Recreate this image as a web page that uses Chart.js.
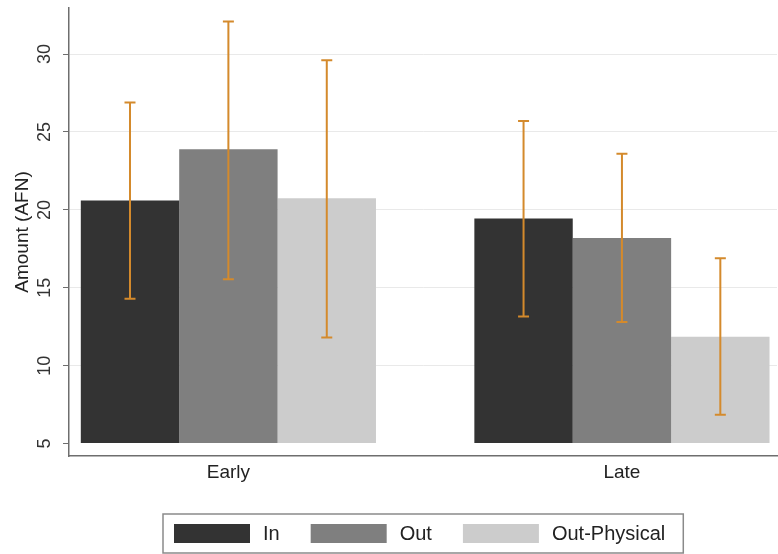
<!DOCTYPE html>
<html>
<head>
<meta charset="utf-8">
<script src="https://cdn.jsdelivr.net/npm/chart.js@4.4.0/dist/chart.umd.min.js"></script>
<style>
  html, body { margin: 0; padding: 0; background: #fff; }
</style>
</head>
<body>
<canvas id="chart" width="778" height="554"></canvas>
<script>
// groups on the x axis and the three series
const groups = ['Early', 'Late'];
const series = ['In', 'Out', 'Out-Physical'];

// bar heights (means)
const inVals = [20.6, 19.45];
const outVals = [23.9, 18.2];
const physVals = [20.75, 11.85];

// error bar ends
const inLow = [14.3, 13.15];
const inHigh = [26.9, 25.7];
const outLow = [15.55, 12.8];
const outHigh = [32.1, 23.6];
const physLow = [11.8, 6.85];
const physHigh = [29.6, 16.9];

const yTicks = [5, 10, 15, 20, 25, 30];

const barColors = ['#333333', '#7f7f7f', '#cccccc'];
const errLow = [inLow, outLow, physLow];
const errHigh = [inHigh, outHigh, physHigh];
const FONT = '"Liberation Sans", Arial, Helvetica, sans-serif';

Chart.defaults.font.family = FONT;

const toPoints = vals => vals.map((v, i) => ({ x: i, y: v }));

// no extra room for half labels at the axis ends
const noEndPadding = s => {
  s.paddingTop = 0; s.paddingBottom = 0;
  s.paddingLeft = 0; s.paddingRight = 0;
};

// orange whiskers with small caps
const errorBars = {
  id: 'errorBars',
  afterDatasetsDraw(chart) {
    const ctx = chart.ctx, y = chart.scales.y;
    ctx.save();
    ctx.strokeStyle = '#d48a2c';
    ctx.lineWidth = 2;
    chart.data.datasets.forEach((ds, di) => {
      chart.getDatasetMeta(di).data.forEach((bar, i) => {
        const top = y.getPixelForValue(errHigh[di][i]);
        const bot = y.getPixelForValue(errLow[di][i]);
        ctx.beginPath();
        ctx.moveTo(bar.x, top); ctx.lineTo(bar.x, bot);
        ctx.moveTo(bar.x - 5.5, top); ctx.lineTo(bar.x + 5.5, top);
        ctx.moveTo(bar.x - 5.5, bot); ctx.lineTo(bar.x + 5.5, bot);
        ctx.stroke();
      });
    });
    ctx.restore();
  }
};

// framed legend under the plot, centered on the plot area
const boxLegend = {
  id: 'boxLegend',
  afterDraw(chart) {
    const ctx = chart.ctx;
    ctx.save();
    ctx.font = '20px ' + FONT;
    const widths = series.map(s => ctx.measureText(s).width);
    const boxW = 76, boxH = 19, gap = 13, sep = 31, padL = 11, padR = 18;
    let total = padL + padR;
    widths.forEach((w, i) => { total += boxW + gap + w + (i < widths.length - 1 ? sep : 0); });
    const cx = (chart.chartArea.left + chart.chartArea.right) / 2;
    const left = Math.round(cx - total / 2);
    const top = 514, h = 39;
    ctx.strokeStyle = '#8a8a8a';
    ctx.lineWidth = 1.5;
    ctx.strokeRect(left, top, total, h);
    let x = left + padL;
    const mid = top + h / 2;
    series.forEach((s, i) => {
      ctx.fillStyle = barColors[i];
      ctx.fillRect(x, Math.round(mid - boxH / 2), boxW, boxH);
      x += boxW + gap;
      ctx.fillStyle = '#222';
      ctx.textBaseline = 'middle';
      ctx.textAlign = 'left';
      ctx.fillText(s, x, mid + 1);
      x += widths[i] + sep;
    });
    ctx.restore();
  }
};

new Chart(document.getElementById('chart'), {
  type: 'bar',
  data: {
    datasets: [
      { label: series[0], data: toPoints(inVals), backgroundColor: barColors[0] },
      { label: series[1], data: toPoints(outVals), backgroundColor: barColors[1] },
      { label: series[2], data: toPoints(physVals), backgroundColor: barColors[2] }
    ]
  },
  options: {
    responsive: false,
    animation: false,
    layout: { padding: { top: 8, right: 1, left: 0, bottom: 0 } },
    datasets: {
      bar: { base: 5, borderWidth: 0, barPercentage: 1, categoryPercentage: 0.75 }
    },
    plugins: {
      legend: { display: false },
      tooltip: { enabled: false }
    },
    scales: {
      x: {
        type: 'linear',
        offset: false,
        min: -0.405,
        max: 1.394,
        afterBuildTicks: s => { s.ticks = groups.map((g, i) => ({ value: i })); },
        afterFit: s => { s.height = 98; noEndPadding(s); },
        ticks: {
          callback: v => groups[v],
          font: { size: 19 },
          color: '#222',
          padding: 5,
          maxRotation: 0
        },
        grid: { display: false, drawTicks: false },
        border: { display: true, color: '#6e6e6e', width: 1.5 }
      },
      y: {
        type: 'linear',
        min: 4.2,
        max: 32.96,
        afterBuildTicks: s => { s.ticks = yTicks.map(v => ({ value: v })); },
        afterFit: s => { s.width = 69; noEndPadding(s); },
        ticks: {
          minRotation: 90,
          maxRotation: 90,
          crossAlign: 'center',
          padding: 8,
          font: { size: 18 },
          color: '#333'
        },
        grid: {
          color: c => (c.tick && c.tick.value === 5) ? 'rgba(0,0,0,0)' : '#e9e9e9',
          tickColor: '#6e6e6e',
          tickLength: 6,
          lineWidth: 1
        },
        border: { display: true, color: '#6e6e6e', width: 1.5 },
        title: {
          display: true,
          text: 'Amount (AFN)',
          font: { size: 19 },
          color: '#222',
          padding: { top: 11, bottom: 0 }
        }
      }
    }
  },
  plugins: [errorBars, boxLegend]
});
</script>
</body>
</html>
